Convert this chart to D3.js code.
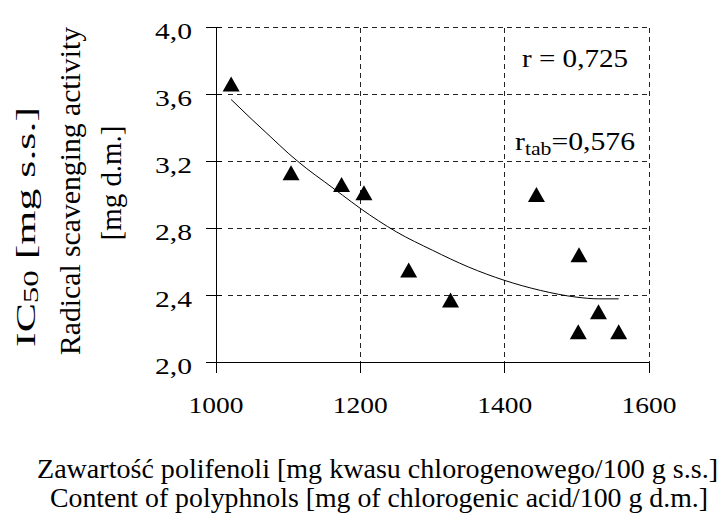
<!DOCTYPE html>
<html>
<head>
<meta charset="utf-8">
<script src="https://cdn.jsdelivr.net/npm/d3@7"></script>
<style>
  body { margin: 0; background: #fff; }
</style>
</head>
<body>
<div id="chart"></div>
<script>
// polyphenols [mg/100 g] vs IC50 [mg]
var polyphenols = [1021, 1104, 1174, 1205, 1267, 1325, 1444, 1503, 1530, 1502, 1558]
var ic50 = [3.66, 3.13, 3.06, 3.01, 2.55, 2.37, 3.00, 2.64, 2.30, 2.18, 2.18]

// trend line
var trendX = [1021, 1050, 1075, 1100, 1125, 1150, 1175, 1200, 1250, 1300, 1350, 1400, 1450, 1500, 1530, 1558]
var trendY = [3.57, 3.45, 3.35, 3.25, 3.16, 3.08, 3.00, 2.92, 2.78, 2.67, 2.57, 2.49, 2.43, 2.39, 2.38, 2.38]

var xTicks = [1000, 1200, 1400, 1600]
var yTicks = [2.0, 2.4, 2.8, 3.2, 3.6, 4.0]

var width = 723, height = 523

var svg = d3.select('#chart').append('svg')
  .attr('width', width)
  .attr('height', height)

var x = d3.scaleLinear().domain([1000, 1600]).range([216, 649])
var y = d3.scaleLinear().domain([2, 4]).range([362.5, 27.5])

var fmt = function(d){ return d3.format('.1f')(d).replace('.', ',') }

// grid (dashed)
var grid = svg.append('g')
  .attr('stroke', '#222')
  .attr('stroke-width', 1)
  .attr('stroke-dasharray', '5,4')
  .attr('shape-rendering', 'crispEdges')

grid.selectAll('line.gx')
  .data(xTicks.slice(1))
  .enter().append('line')
  .attr('x1', d => x(d)).attr('x2', d => x(d))
  .attr('y1', y(4)).attr('y2', y(2))

grid.selectAll('line.gy')
  .data(yTicks.slice(1))
  .enter().append('line')
  .attr('x1', x(1000) + 12).attr('x2', x(1600))
  .attr('y1', d => y(d)).attr('y2', d => y(d))

// axes
var axes = svg.append('g')
  .attr('stroke', '#000')
  .attr('stroke-width', 1)
  .attr('shape-rendering', 'crispEdges')

axes.append('line')
  .attr('x1', x(1000)).attr('x2', x(1000))
  .attr('y1', y(4)).attr('y2', y(2))
axes.append('line')
  .attr('x1', x(1000) - 10).attr('x2', x(1600))
  .attr('y1', y(2)).attr('y2', y(2))

axes.selectAll('line.ty')
  .data(yTicks)
  .enter().append('line')
  .attr('x1', x(1000) - 10).attr('x2', x(1000) + 6)
  .attr('y1', d => y(d)).attr('y2', d => y(d))

axes.selectAll('line.tx')
  .data(xTicks)
  .enter().append('line')
  .attr('x1', d => x(d)).attr('x2', d => x(d))
  .attr('y1', y(2)).attr('y2', y(2) + 10)

// tick labels
svg.selectAll('text.yl')
  .data(yTicks)
  .enter().append('text')
  .attr('x', 192)
  .attr('y', d => y(d) + 11)
  .attr('text-anchor', 'end')
  .attr('font-size', 23)
  .attr('textLength', 37)
  .attr('lengthAdjust', 'spacingAndGlyphs')
  .text(fmt)

svg.selectAll('text.xl')
  .data(xTicks)
  .enter().append('text')
  .attr('x', d => x(d) - 27.5)
  .attr('y', 413)
  .attr('font-size', 23)
  .attr('textLength', 55)
  .attr('lengthAdjust', 'spacingAndGlyphs')
  .text(d => d)

// trend line
var trend = trendX.map(function(d, i){ return {x: d, y: trendY[i]} })
var line = d3.line().x(d => x(d.x)).y(d => y(d.y)).curve(d3.curveMonotoneX)
svg.append('path')
  .attr('d', line(trend))
  .attr('fill', 'none')
  .attr('stroke', '#000')
  .attr('stroke-width', 1)

// points (triangles)
var pts = polyphenols.map(function(d, i){ return {x: d, y: ic50[i]} })
var tri = function(d){
  var cx = x(d.x), cy = y(d.y)
  return 'M' + cx + ',' + (cy - 8) + 'L' + (cx + 8.5) + ',' + (cy + 7) + 'L' + (cx - 8.5) + ',' + (cy + 7) + 'Z'
}
svg.selectAll('path.pt')
  .data(pts)
  .enter().append('path')
  .attr('d', tri)
  .attr('fill', '#000')

// r values
svg.append('text')
  .attr('x', 522).attr('y', 67)
  .attr('font-size', 26)
  .attr('textLength', 106)
  .attr('lengthAdjust', 'spacingAndGlyphs')
  .text('r = 0,725')

var rt = svg.append('text')
  .attr('x', 515).attr('y', 150)
  .attr('font-size', 26)
  .attr('textLength', 120)
  .attr('lengthAdjust', 'spacingAndGlyphs')
rt.append('tspan').text('r')
rt.append('tspan').attr('font-size', 19).attr('dy', 5).text('tab')
rt.append('tspan').attr('dy', -5).text('=0,576')

// y title
var yt1 = svg.append('text')
  .attr('transform', 'translate(35,227) rotate(-90)')
  .attr('text-anchor', 'middle')
  .attr('font-size', 28)
  .attr('textLength', 240)
  .attr('lengthAdjust', 'spacingAndGlyphs')
yt1.append('tspan').text('IC')
yt1.append('tspan').attr('font-size', 21).attr('dy', 3).text('50')
yt1.append('tspan').attr('dy', -3).text(' [mg s.s.]')

svg.append('text')
  .attr('transform', 'translate(80,191) rotate(-90)')
  .attr('text-anchor', 'middle')
  .attr('font-size', 29)
  .attr('textLength', 328)
  .attr('lengthAdjust', 'spacingAndGlyphs')
  .text('Radical scavenging activity')

svg.append('text')
  .attr('transform', 'translate(121,183) rotate(-90)')
  .attr('text-anchor', 'middle')
  .attr('font-size', 29)
  .attr('textLength', 115)
  .attr('lengthAdjust', 'spacingAndGlyphs')
  .text('[mg d.m.]')

// x title
svg.append('text')
  .attr('x', 37).attr('y', 478)
  .attr('font-size', 28)
  .attr('textLength', 681)
  .attr('lengthAdjust', 'spacingAndGlyphs')
  .text('Zawartość polifenoli [mg kwasu chlorogenowego/100 g s.s.]')

svg.append('text')
  .attr('x', 50).attr('y', 507)
  .attr('font-size', 28)
  .attr('textLength', 658)
  .attr('lengthAdjust', 'spacingAndGlyphs')
  .text('Content of polyphnols [mg of chlorogenic acid/100 g d.m.]')

// one family on every text, set directly on the element
svg.selectAll('text').style('font-family', "'Liberation Serif'")
</script>
</body>
</html>
